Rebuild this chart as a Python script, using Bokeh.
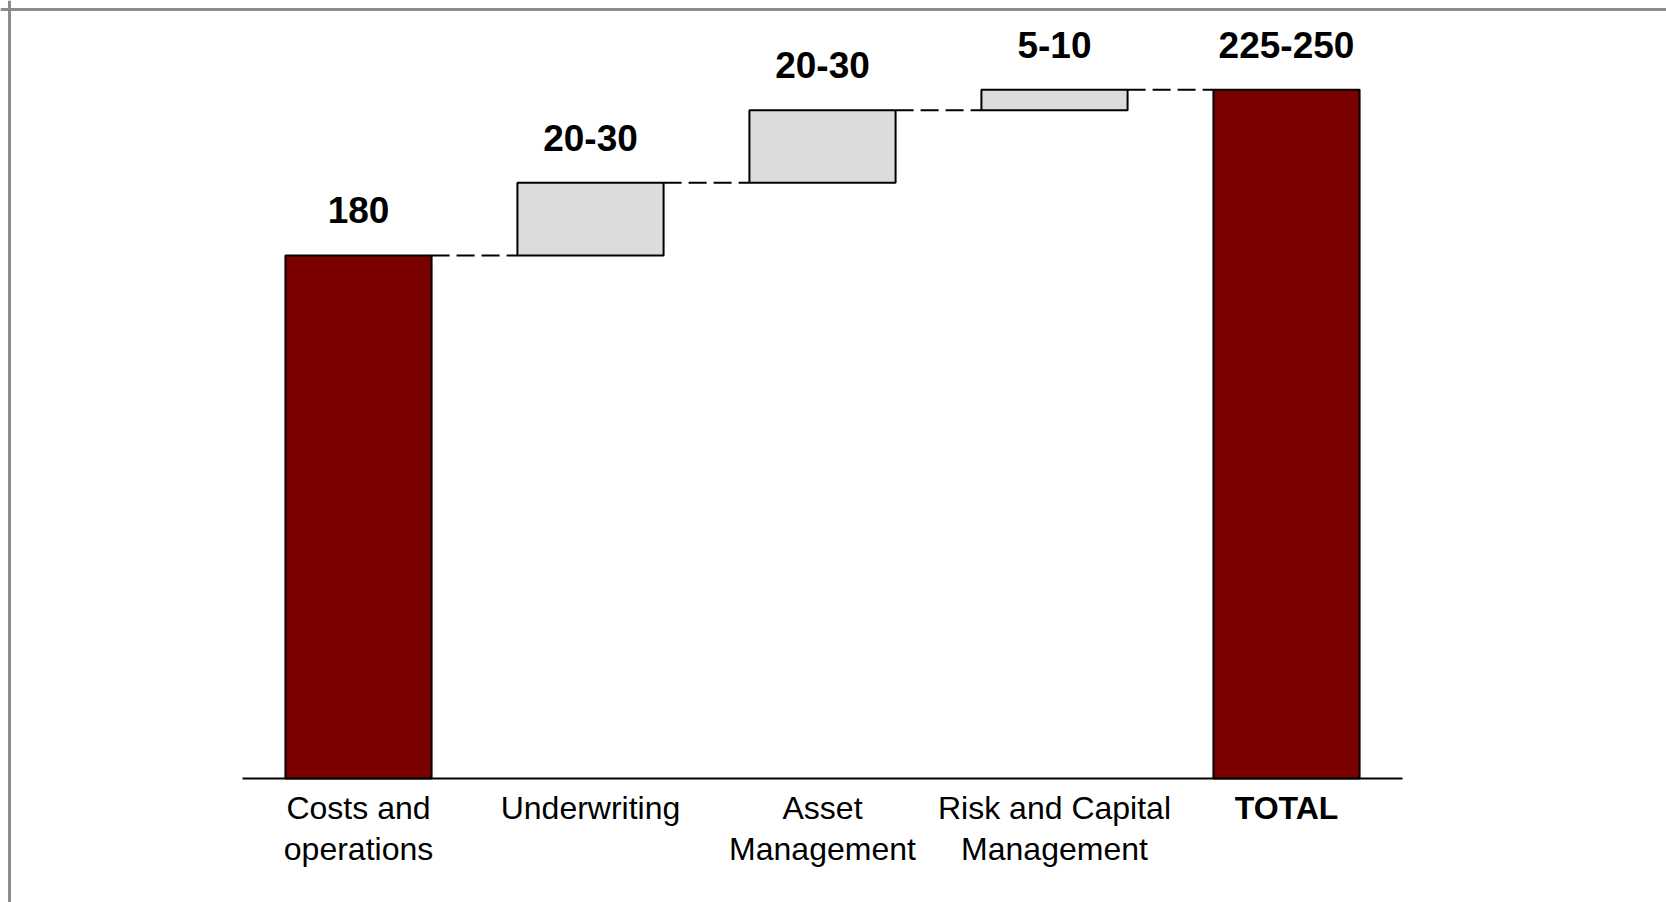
from bokeh.plotting import figure
from bokeh.models import Range1d, Span, ColumnDataSource
from bokeh.core.properties import value
from bokeh.embed import file_html
from bokeh.resources import INLINE

# ---- data ----
categories = ["Costs and\noperations", "Underwriting", "Asset\nManagement",
              "Risk and Capital\nManagement", "TOTAL"]
steps = [180, 25, 25, 7]            # base + increments (midpoints of ranges)
value_labels = ["180", "20-30", "20-30", "5-10", "225-250"]
category_styles = ["normal", "normal", "normal", "normal", "bold"]

# ---- waterfall geometry from data ----
total = sum(steps)
xs = list(range(len(categories)))
bottoms, tops, colors = [], [], []
run = 0
for i, s in enumerate(steps):
    if i == 0:
        bottoms.append(0); tops.append(s); colors.append("#7a0000")
    else:
        bottoms.append(run); tops.append(run + s); colors.append("#dcdcdc")
    run += s
bottoms.append(0); tops.append(total); colors.append("#7a0000")

# ---- layout constants (pixels) ----
W, H = 1666, 902
X0_PX, X_UNIT = 358.0, 232.0
Y0_PX, Y_UNIT = 778.0, 2.9056
x_start = -X0_PX / X_UNIT
x_end = (W - X0_PX) / X_UNIT
y_end = Y0_PX / Y_UNIT
y_start = -(H - Y0_PX) / Y_UNIT

p = figure(width=W, height=H, min_border=0, output_backend="svg",
           toolbar_location=None,
           x_range=Range1d(x_start, x_end), y_range=Range1d(y_start, y_end))
p.title.visible = False
p.axis.visible = False
p.grid.visible = False
p.outline_line_color = None
p.background_fill_color = "white"
p.border_fill_color = "white"

BW = 0.63
src = ColumnDataSource(dict(x=xs, bottom=bottoms, top=tops, color=colors,
                            lab=value_labels, cat=categories,
                            style=category_styles))

# dashed connectors
cx0 = [xs[i] + BW / 2 for i in range(len(xs) - 1)]
cx1 = [xs[i + 1] - BW / 2 for i in range(len(xs) - 1)]
cy = [tops[i] for i in range(len(xs) - 1)]
p.segment(x0=cx0, y0=cy, x1=cx1, y1=cy, line_color="black", line_width=2,
          line_dash="18 7")

p.vbar(x="x", width=BW, bottom="bottom", top="top", fill_color="color",
       line_color="black", line_width=2, source=src)

# baseline axis
p.segment(x0=[xs[0] - 0.5], y0=[0], x1=[xs[-1] + 0.5], y1=[0],
          line_color="black", line_width=2)

# value labels
p.text(x="x", y="top", text="lab", source=src,
       text_font=value("Liberation Sans"), text_font_style="bold",
       text_font_size="37px", text_align="center",
       text_baseline="alphabetic", y_offset=-45, text_color="black")

# category labels
p.text(x="x", y=0, text="cat", source=src,
       text_font=value("Liberation Sans"), text_font_style="style",
       text_font_size="32px", text_align="center", text_baseline="top",
       y_offset=11, text_line_height=1.15, text_color="black")

# frame border (left and top)
p.add_layout(Span(location=x_start + 9.0 / X_UNIT, dimension="height",
                  line_color="#8c8c8c", line_width=3))
p.add_layout(Span(location=y_end - 9.0 / Y_UNIT, dimension="width",
                  line_color="#8c8c8c", line_width=3))

open("out.html", "w").write(file_html(p, INLINE))
